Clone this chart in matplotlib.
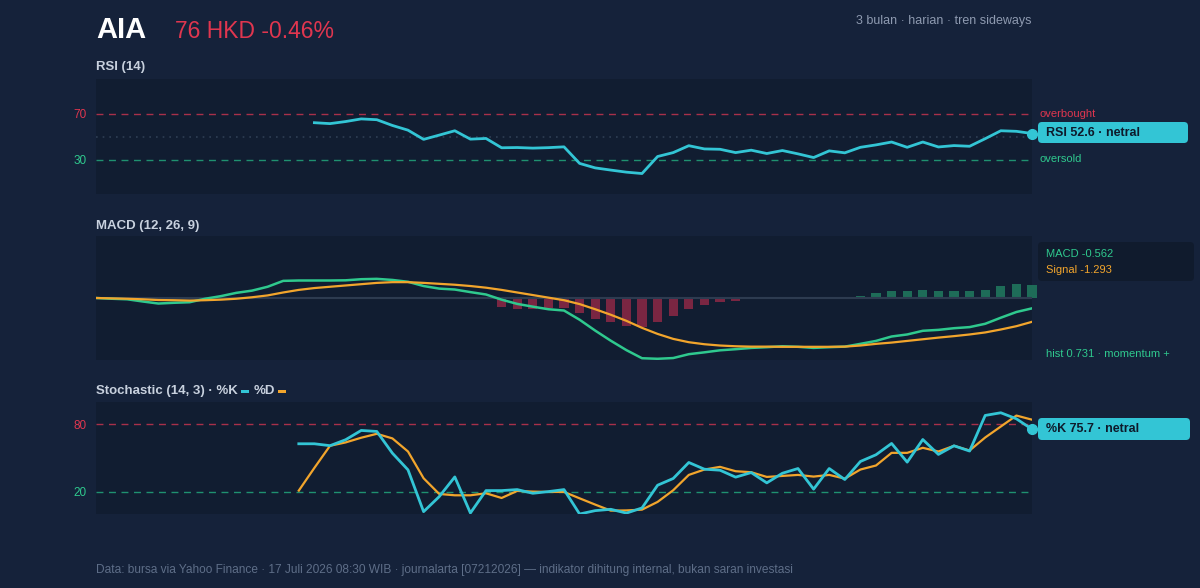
import numpy as np
import matplotlib
matplotlib.use("Agg")
import matplotlib.pyplot as plt
from matplotlib.patches import FancyBboxPatch, Rectangle
from matplotlib.transforms import IdentityTransform

plt.rcParams['font.family'] = ['Liberation Sans', 'DejaVu Sans']

nan = np.nan

ticker = "AIA"
price_text = "76 HKD -0.46%"
subtitle = "3 bulan · harian · tren sideways"
footer = ("Data: bursa via Yahoo Finance · 17 Juli 2026 08:30 WIB · journalarta [07212026]"
          " — indikator dihitung internal, bukan saran investasi")

days = np.arange(61)

rsi = [nan] * 14 + [
    62.0, 61.2, 63.0, 65.3, 64.6, 59.6, 55.5, 47.5, 51.2, 55.0,
    47.7, 48.3, 40.2, 40.4, 39.9, 40.3, 41.0, 26.6, 22.7, 20.8,
    19.0, 17.8, 32.6, 36.0, 42.0, 39.2, 38.9, 36.0, 38.1, 35.2,
    37.8, 34.9, 31.7, 37.5, 35.8, 40.6, 42.7, 45.2, 40.6, 45.2,
    40.9, 42.1, 41.5, 48.1, 55.0, 54.5, 52.6]

macd = [
    0.0, -0.04, -0.07, -0.19, -0.30, -0.26, -0.23, -0.04, 0.10, 0.28,
    0.40, 0.61, 0.93, 0.95, 0.95, 0.95, 0.96, 1.02, 1.04, 0.98,
    0.88, 0.65, 0.51, 0.46, 0.32, 0.19, -0.09, -0.32, -0.47, -0.61,
    -0.68, -1.18, -1.77, -2.32, -2.83, -3.27, -3.30, -3.26, -3.05, -2.95,
    -2.84, -2.78, -2.71, -2.67, -2.62, -2.65, -2.71, -2.67, -2.64, -2.49,
    -2.33, -2.09, -1.98, -1.78, -1.73, -1.64, -1.58, -1.40, -1.07, -0.76,
    -0.562]

signal = [
    0.0, -0.02, -0.04, -0.07, -0.11, -0.12, -0.14, -0.12, -0.09, -0.04,
    0.04, 0.14, 0.30, 0.44, 0.54, 0.61, 0.68, 0.75, 0.82, 0.86,
    0.86, 0.82, 0.77, 0.72, 0.65, 0.56, 0.44, 0.30, 0.16, 0.02,
    -0.12, -0.33, -0.61, -0.91, -1.24, -1.62, -1.95, -2.22, -2.40, -2.51,
    -2.58, -2.62, -2.64, -2.64, -2.65, -2.65, -2.65, -2.65, -2.64, -2.58,
    -2.49, -2.42, -2.33, -2.24, -2.15, -2.07, -1.98, -1.87, -1.71, -1.53,
    -1.293]

hist = [nan] * 26 + [
    -0.50, -0.58, -0.60, -0.55, -0.53, -0.83, -1.13, -1.33, -1.53, -1.58,
    -1.31, -0.98, -0.60, -0.36, -0.20, -0.15, -0.05, -0.05, 0.03, 0.01,
    -0.05, 0.01, 0.02, 0.13, 0.25, 0.38, 0.38, 0.45, 0.40, 0.40,
    0.36, 0.45, 0.64, 0.75, 0.731]

stoch_k = [nan] * 13 + [
    62.7, 62.7, 61.0, 66.3, 74.6, 73.7, 54.3, 39.4, 2.1, 15.5,
    33.1, 0.9, 20.9, 20.9, 21.8, 18.5, 20.0, 21.8, 0.0, 3.0,
    4.2, 0.8, 5.4, 25.7, 31.7, 46.0, 40.0, 39.1, 32.9, 37.0,
    27.8, 36.4, 40.6, 22.2, 40.6, 30.8, 46.9, 52.9, 63.0, 46.3,
    66.5, 53.2, 60.9, 56.2, 88.0, 90.4, 85.0, 75.7]

stoch_d = [nan] * 13 + [
    20.9, 41.2, 60.9, 63.9, 68.1, 71.6, 67.5, 55.8, 31.9, 17.9,
    16.7, 16.7, 18.5, 14.3, 20.6, 20.0, 19.7, 19.7, 14.0, 8.4,
    3.0, 3.2, 3.9, 10.8, 21.2, 34.9, 39.7, 42.1, 38.2, 37.3,
    33.1, 34.0, 34.9, 33.4, 34.9, 31.6, 39.7, 43.3, 54.6, 54.6,
    59.1, 55.8, 60.9, 56.7, 68.3, 78.1, 87.9, 84.2]

BG = "#15223a"
PANEL = "#111d31"
CYAN = "#33c5d5"
GREEN = "#2fc98e"
ORANGE = "#f2a52c"
RED = "#e0364f"
RED_DIM = "#a8304a"
GREEN_DIM = "#1f9170"
TITLE = "#c8d1de"
MUTED = "#8e9ab0"

W, H = 1200, 588
fig = plt.figure(figsize=(W / 100, H / 100), dpi=100, facecolor=BG)
px = IdentityTransform()


def box(x0, y0, x1, y1):
    return [x0 / W, 1 - y1 / H, (x1 - x0) / W, (y1 - y0) / H]


def style(ax):
    ax.set_facecolor(PANEL)
    for s in ax.spines.values():
        s.set_visible(False)
    ax.set_xlim(0, 60)
    ax.set_xticks([])
    ax.tick_params(axis='y', length=0, pad=7, labelsize=8.5)


def badge(x0, y0, x1, y1, text, color, fg="#0e1a2b"):
    fig.add_artist(FancyBboxPatch((x0, H - y1), x1 - x0, y1 - y0,
                                  boxstyle="round,pad=0,rounding_size=4",
                                  fc=color, ec="none", transform=px))
    fig.text(x0 + 8, H - (y0 + y1) / 2, text, transform=px, color=fg,
             fontsize=9, fontweight="bold", va="center")


# header
fig.text(96, H - 38, ticker, transform=px, color="white", fontsize=21,
         fontweight="bold", va="baseline")
fig.text(175, H - 37.5, price_text, transform=px, color=RED, fontsize=16.5,
         va="baseline")
fig.text(1032, H - 21, subtitle, transform=px, color=MUTED, fontsize=9,
         ha="right", va="center")

# RSI
ax1 = fig.add_axes(box(96, 79, 1032, 194))
style(ax1)
ax1.set_ylim(0, 100)
ax1.axhline(70, color=RED_DIM, lw=1, ls=(0, (5, 4)))
ax1.axhline(30, color=GREEN_DIM, lw=1, ls=(0, (5, 4)))
ax1.axhline(50, color="#2f3e54", lw=1.2, ls=(0, (1, 3)))
ax1.plot(days, rsi, color=CYAN, lw=2)
ax1.plot(days[-1], rsi[-1], "o", color=CYAN, ms=7, clip_on=False)
ax1.set_yticks([30, 70])
for lbl, c in zip(ax1.get_yticklabels(), [GREEN, RED]):
    lbl.set_color(c)
ax1.text(1.0085, 70, "overbought", transform=ax1.get_yaxis_transform(),
         color=RED, fontsize=8, va="center")
ax1.text(1.0085, 30, "oversold", transform=ax1.get_yaxis_transform(),
         color=GREEN, fontsize=8, va="center")
fig.text(96, H - 67, "RSI (14)", transform=px, color=TITLE, fontsize=9.5,
         fontweight="bold", va="center")
badge(1038, 122, 1188, 143, "RSI %.1f · netral" % rsi[-1], CYAN)

# MACD
ax2 = fig.add_axes(box(96, 236, 1032, 360))
style(ax2)
ax2.set_yticks([])
hist_arr = np.array(hist)
bar_colors = ["#1e6c58" if v >= 0 else "#7a2642" for v in np.nan_to_num(hist_arr)]
ax2.bar(days, hist_arr, width=0.58, color=bar_colors, clip_on=False)
ax2.axhline(0, color="#2d3b50", lw=1.5)
ax2.plot(days, macd, color=GREEN, lw=1.8)
ax2.plot(days, signal, color=ORANGE, lw=1.6)
lim = max(np.abs(macd).max(), np.abs(signal).max()) * 1.02
ax2.set_ylim(-lim, lim)
fig.text(96, H - 226, "MACD (12, 26, 9)", transform=px, color=TITLE, fontsize=9.5,
         fontweight="bold", va="center")
fig.add_artist(FancyBboxPatch((1038, H - 281), 156, 39,
                              boxstyle="round,pad=0,rounding_size=4",
                              fc="#101b2d", ec="none", transform=px))
fig.text(1046, H - 254, "MACD %.3f" % macd[-1], transform=px, color=GREEN,
         fontsize=8, va="center")
fig.text(1046, H - 270, "Signal %.3f" % signal[-1], transform=px, color=ORANGE,
         fontsize=8, va="center")
fig.text(1046, H - 354, "hist %.3f · momentum +" % hist[-1], transform=px,
         color=GREEN, fontsize=8, va="center")

# Stochastic
ax3 = fig.add_axes(box(96, 402, 1032, 514))
style(ax3)
ax3.set_ylim(0, 100)
ax3.axhline(80, color=RED_DIM, lw=1, ls=(0, (5, 4)))
ax3.axhline(20, color=GREEN_DIM, lw=1, ls=(0, (5, 4)))
ax3.plot(days, stoch_d, color=ORANGE, lw=1.6)
ax3.plot(days, stoch_k, color=CYAN, lw=2)
ax3.plot(days[-1], stoch_k[-1], "o", color=CYAN, ms=7, clip_on=False)
ax3.set_yticks([20, 80])
for lbl, c in zip(ax3.get_yticklabels(), [GREEN, RED]):
    lbl.set_color(c)
badge(1038, 418, 1190, 440, "%%K %.1f · netral" % stoch_k[-1], CYAN)

renderer = fig.canvas.get_renderer()
x = 96
for s, c in [("Stochastic (14, 3) · %K", CYAN), ("%D", ORANGE)]:
    t = fig.text(x, H - 391, s, transform=px, color=TITLE, fontsize=9.5,
                 fontweight="bold", va="center")
    x += t.get_window_extent(renderer=renderer).width + 3
    fig.add_artist(Rectangle((x, H - 392.5), 8, 3, fc=c, ec="none", transform=px))
    x += 8 + 5

fig.text(96, H - 570, footer, transform=px, color="#5e6e88", fontsize=8.6,
         va="center")

fig.savefig("out.png", dpi=100, facecolor=BG)
